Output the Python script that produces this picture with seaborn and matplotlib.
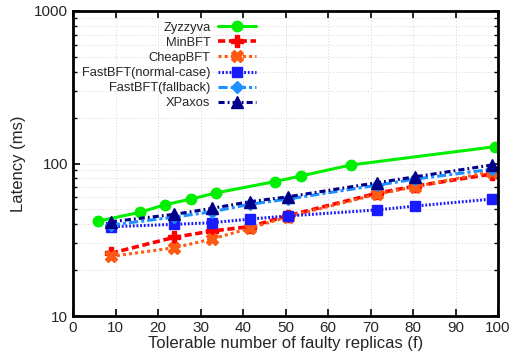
import matplotlib
matplotlib.use("Agg")
import matplotlib.pyplot as plt
import seaborn as sns
import numpy as np
import pandas as pd
from matplotlib.ticker import LogLocator, NullFormatter

sns.set_theme(style="white")
plt.rcParams['font.family'] = ['Liberation Sans', 'DejaVu Sans']

# Data
zyz_f = [5.8, 15.8, 21.7, 27.8, 33.6, 47.6, 53.6, 65.4, 99.3]
zyz_lat = [41.8, 47.9, 53.7, 58.5, 64.1, 76.2, 82.8, 97.8, 128.9]

f_vals = [8.9, 23.8, 32.7, 41.6, 50.6, 71.5, 80.5, 98.5]
minbft_lat = [25.8, 32.8, 36.1, 38.5, 45.5, 63.8, 71.1, 85.3]
cheapbft_lat = [24.6, 28.0, 32.0, 37.6, 44.8, 62.8, 70.5, 88.3]
fastbft_normal_lat = [38.5, 39.9, 40.9, 43.2, 45.3, 49.6, 52.6, 58.4]
fastbft_fallback_lat = [39.5, 44.5, 48.3, 54.0, 58.5, 72.0, 79.0, 91.6]
xpaxos_lat = [41.5, 46.4, 50.8, 56.2, 60.5, 74.8, 81.8, 97.7]

series = [
    ("Zyzzyva", zyz_f, zyz_lat, "#00ee00", "-", "o", 7.5, 2.2),
    ("MinBFT", f_vals, minbft_lat, "#ff0000", (0, (2, 1)), "P", 8, 2.6),
    ("CheapBFT", f_vals, cheapbft_lat, "#ff5a14", (0, (1, 1)), "X", 8, 2.2),
    ("FastBFT(normal-case)", f_vals, fastbft_normal_lat, "#1a1aff", (0, (0.6, 0.6)), "s", 6.5, 2.2),
    ("FastBFT(fallback)", f_vals, fastbft_fallback_lat, "#1e90ff", (0, (3, 1, 1, 1)), "D", 6, 2.2),
    ("XPaxos", f_vals, xpaxos_lat, "#00008b", (0, (2, 1, 0.6, 1)), "^", 8, 2.2),
]

fig = plt.figure(figsize=(5.11, 3.6), dpi=100)
ax = fig.add_axes([73/511, 1-316/360, (498-73)/511, (316-11)/360])

for name, xs, ys, col, ls, mk, ms, lw in series:
    df = pd.DataFrame({"f": xs, "lat": ys})
    sns.lineplot(data=df, x="f", y="lat", ax=ax, color=col, linestyle=ls,
                 marker=mk, markersize=ms, linewidth=lw, label=name,
                 markeredgecolor=col, markeredgewidth=1, estimator=None, sort=False)

ax.set_yscale("log")
ax.set_xlim(0, 100)
ax.set_ylim(10, 1000)
ax.set_xticks(np.arange(0, 101, 10))
ax.set_yticks([10, 100, 1000])
ax.set_yticklabels(["10", "100", "1000"])
ax.yaxis.set_minor_locator(LogLocator(base=10, subs=np.arange(2, 10)))
ax.yaxis.set_minor_formatter(NullFormatter())

ax.grid(True, which="major", color="#d4d4d4", linestyle=(0, (1, 2)), linewidth=0.7)
ax.grid(True, which="minor", axis="y", color="#d4d4d4", linestyle=(0, (1, 2)), linewidth=0.7)

ax.tick_params(which="both", direction="in", top=True, right=True, bottom=True, left=True,
               color="black", labelsize=11)
ax.tick_params(which="major", length=5, width=1.2)
ax.tick_params(which="minor", length=3, width=1.0)
for s in ax.spines.values():
    s.set_color("black")
    s.set_linewidth(2)

ax.set_xlabel("Tolerable number of faulty replicas (f)", fontsize=12, labelpad=1)
ax.set_ylabel("Latency (ms)", fontsize=12, labelpad=6)

leg = ax.legend(loc="upper left", bbox_to_anchor=(0.0, 0.995), frameon=False,
                markerfirst=False, fontsize=9.3, handlelength=2.9, labelspacing=0.24,
                handletextpad=0.6, borderaxespad=0.3)

fig.savefig("out.png", dpi=100)
